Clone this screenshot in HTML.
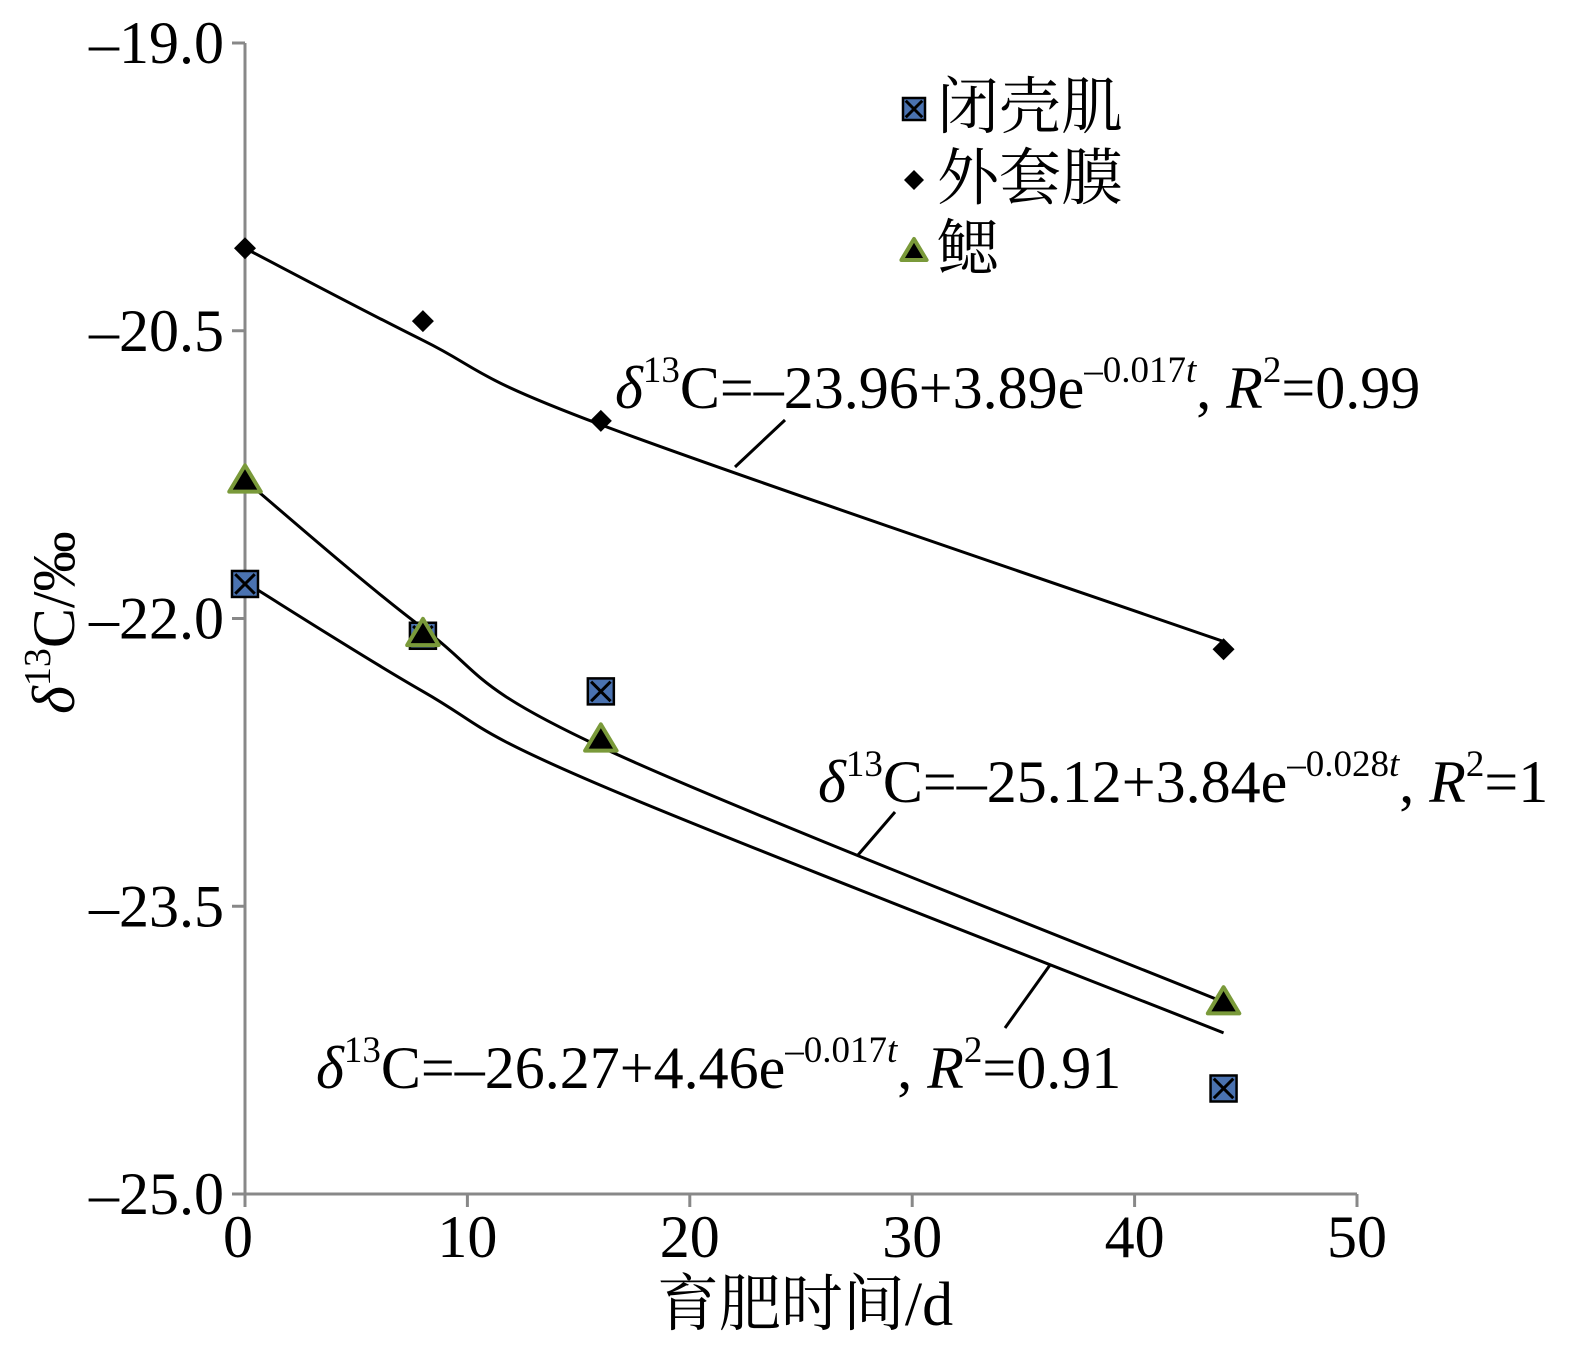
<!DOCTYPE html>
<html><head><meta charset="utf-8"><style>
body{margin:0;background:#fff}
svg text{font-family:"Liberation Serif","Noto Serif CJK SC",serif;fill:#000}
</style></head><body>
<svg id="c" width="1578" height="1352" viewBox="0 0 1578 1352" xmlns="http://www.w3.org/2000/svg"></svg>
<script>
const xTicks=[0,10,20,30,40,50];
const yTicks=[-19.0,-20.5,-22.0,-23.5,-25.0];
const yTickLabels=["\u201319.0","\u201320.5","\u201322.0","\u201323.5","\u201325.0"];
const days=[0,8,16,44];
const mantle=[-20.07,-20.45,-20.97,-22.16];
const gill=[-21.28,-22.08,-22.63,-24.0];
const muscle=[-21.82,-22.09,-22.38,-24.45];
const mantleFit=[-20.07,-20.55,-20.99,-22.12];
const gillFit=[-21.28,-22.05,-22.67,-24.0];
const muscleFit=[-21.81,-22.38,-22.87,-24.16];
const NS="http://www.w3.org/2000/svg";
const svg=document.getElementById('c');
const X=v=>245+v*(1357-245)/50;
const Y=v=>43+(-19-v)*(1194-43)/6;
function el(t,a,p){const e=document.createElementNS(NS,t);for(const k in a)e.setAttribute(k,a[k]);(p||svg).appendChild(e);return e;}
let ax=el('line',{x1:245,y1:43,x2:245,y2:1194,stroke:'#888','stroke-width':3});


ax=el('line',{x1:245,y1:1194,x2:1357,y2:1194,stroke:'#888','stroke-width':3});


yTicks.forEach((v,i)=>{
 const l=el('line',{x1:232,y1:Y(v),x2:245,y2:Y(v),stroke:'#888','stroke-width':3});
 
 
 const t=el('text',{x:224,y:Y(v)+20,'text-anchor':'end','font-size':60});
 t.textContent=yTickLabels[i];
 
 
});
xTicks.forEach(v=>{
 const l=el('line',{x1:X(v),y1:1194,x2:X(v),y2:1207,stroke:'#888','stroke-width':3});
 
 
 const t=el('text',{x:X(v)+(v==0?-7:0),y:1257,'text-anchor':'middle','font-size':60});
 t.textContent=v;
 
 
});
let tt=el('text',{x:805,y:1325,'text-anchor':'middle','font-size':62});
tt.textContent='育肥时间/d';


tt=el('text',{x:0,y:0,'font-size':60,transform:'translate(74,714) rotate(-90)'});
tt.innerHTML='<tspan font-style="italic">δ</tspan><tspan font-size="38" dy="-24">13</tspan><tspan dy="24">C/‰</tspan>';


function curve(arr,name){
 const p=days.map((d,i)=>[X(d),Y(arr[i])]);
 let d='M'+p[0][0]+','+p[0][1];
 for(let i=0;i<p.length-1;i++){
  const p0=p[i-1]||p[i],p1=p[i],p2=p[i+1],p3=p[i+2]||p2;
  const c1=[p1[0]+(p2[0]-p0[0])/6,p1[1]+(p2[1]-p0[1])/6];
  const c2=[p2[0]-(p3[0]-p1[0])/6,p2[1]-(p3[1]-p1[1])/6];
  d+=' C'+c1+' '+c2+' '+p2;
 }
 const e=el('path',{d:d,fill:'none',stroke:'#000','stroke-width':3});
 
 
}
curve(mantleFit,'mantle-fit-curve');
curve(gillFit,'gill-fit-curve');
curve(muscleFit,'muscle-fit-curve');
function square(x,y,s,name){
 const g=el('g',{});
 
 
 el('rect',{x:x-s,y:y-s,width:2*s,height:2*s,fill:'#4a72b0',stroke:'#000','stroke-width':2.5},g);
 el('path',{d:`M${x-s*0.75},${y-s*0.75}L${x+s*0.75},${y+s*0.75}M${x+s*0.75},${y-s*0.75}L${x-s*0.75},${y+s*0.75}`,stroke:'#000','stroke-width':3},g);
}
function diamond(x,y,s,name){
 const e=el('path',{d:`M${x},${y-s}L${x+s},${y}L${x},${y+s}L${x-s},${y}Z`,fill:'#000'});
 
 
}
function tri(x,y,s,name){
 const e=el('path',{d:`M${x},${y-s}L${x+s*1.05},${y+s*0.75}L${x-s*1.05},${y+s*0.75}Z`,fill:'#000',stroke:'#7a9a3a','stroke-width':4,'stroke-linejoin':'round'});
 
 
}
days.forEach((d,i)=>{
 square(X(d),Y(muscle[i]),13,'muscle-point');
 diamond(X(d),Y(mantle[i]),11,'mantle-point');
 tri(X(d),Y(gill[i]),15,'gill-point');
});
square(914,109,11,'legend-muscle-marker');
diamond(914,180,10,'legend-mantle-marker');
tri(914,251,12,'legend-gill-marker');
[['闭壳肌',128],['外套膜',199],['鳃',270]].forEach(([s,y])=>{
 const t=el('text',{x:937,y:y,'font-size':62});
 t.textContent=s;
 
 
});
function eq(x,y,a,b,c,r,name){
 const t=el('text',{x:x,y:y,'font-size':60});
 t.innerHTML=`<tspan font-style="italic">δ</tspan><tspan font-size="37" dy="-26">13</tspan><tspan dy="26">C=–${a}+${b}e</tspan><tspan font-size="37" dy="-26">–${c}<tspan font-style="italic">t</tspan></tspan><tspan dy="26">, </tspan><tspan font-style="italic">R</tspan><tspan font-size="37" dy="-26">2</tspan><tspan dy="26">=${r}</tspan>`;
 
 
}
eq(615,408,'23.96','3.89','0.017','0.99','mantle-equation');
eq(818,802,'25.12','3.84','0.028','1','gill-equation');
eq(316,1088,'26.27','4.46','0.017','0.91','muscle-equation');
[[735,467,785,420],[858,855,895,812],[1005,1028,1050,965]].forEach(a=>{
 const l=el('line',{x1:a[0],y1:a[1],x2:a[2],y2:a[3],stroke:'#000','stroke-width':3});
 
 
});
</script>
</body></html>
